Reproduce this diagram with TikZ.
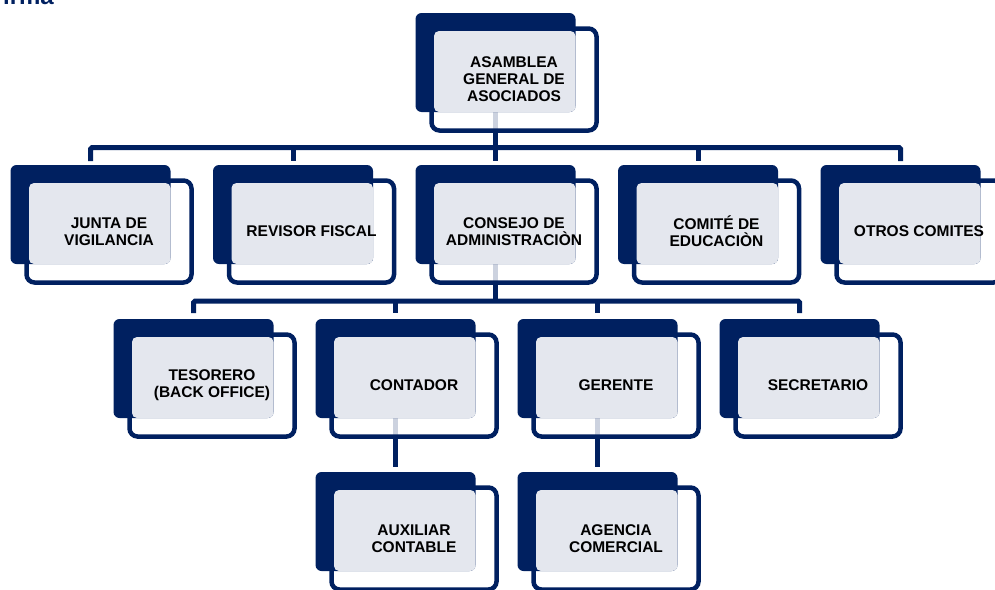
\documentclass[tikz,border=0pt]{standalone}
\usepackage{fontspec}
\setmainfont{Liberation Sans}
\definecolor{navy}{RGB}{0,32,96}
\definecolor{paleg}{RGB}{228,231,238}
\newcommand\lblfont{\bfseries\fontsize{15.5}{17}\selectfont}
\tikzset{
  darkbox/.style={fill=navy, rounded corners=6pt},
  framebox/.style={draw=navy, line width=4.5pt, fill=white, fill opacity=0.8, rounded corners=8pt},
  greybox/.style={fill=paleg, rounded corners=5pt},
  conn/.style={draw=navy, line width=5pt, rounded corners=1.5pt},
  lbl/.style={font=\lblfont, align=center, text=black, inner sep=0pt},
  anchorbox/.style={inner sep=0pt, minimum width=160pt, minimum height=99pt, anchor=north west}
}
\newcommand\orgunit[4]{%
  \path[framebox] (#2+16,#3+15.5) rectangle (#2+181,#3+117.5);
  \path[darkbox] (#2,#3) rectangle (#2+160,#3+99);
  \path[greybox] (#2+18.5,#3+18) rectangle (#2+160,#3+99);
  \node[lbl] (#1-t) at (#2+98.5,#3+66.5) {#4};
}
\begin{document}
\begin{tikzpicture}[x=1pt,y=-1pt]
\useasboundingbox (0,0) rectangle (995,589);
% anchor nodes (dark boxes)
\node[anchorbox] (asamblea) at (415.5,13) {};
\node[anchorbox] (junta) at (10.5,165) {};
\node[anchorbox] (revisor) at (213,165) {};
\node[anchorbox] (consejo) at (415.5,165) {};
\node[anchorbox] (comite) at (618,165) {};
\node[anchorbox] (otros) at (820.5,165) {};
\node[anchorbox] (tesorero) at (113.5,319) {};
\node[anchorbox] (contador) at (315.5,319) {};
\node[anchorbox] (gerente) at (517.5,319) {};
\node[anchorbox] (secretario) at (719.5,319) {};
\node[anchorbox] (auxiliar) at (315.5,472) {};
\node[anchorbox] (agencia) at (517.5,472) {};
\coordinate (bar1) at (0,147.5);
\coordinate (bar2) at (0,301);
% title fragment
\node[anchor=base east, inner sep=0pt, text=navy, font=\bfseries\fontsize{24}{24}\selectfont] (title) at (54,5) {irma};
% connectors
\draw[conn, shorten >=4pt] (asamblea.south) -- (consejo.north);
\draw[conn, shorten <=4pt, shorten >=4pt] (junta.north) |- (otros.north |- bar1) -- (otros.north);
\draw[conn, shorten >=4pt] (revisor.north |- bar1) -- (revisor.north);
\draw[conn, shorten >=4pt] (comite.north |- bar1) -- (comite.north);
\draw[conn] (consejo.south) -- (consejo.south |- bar2);
\draw[conn, shorten <=6pt, shorten >=6pt] (tesorero.north) |- (secretario.north |- bar2) -- (secretario.north);
\draw[conn, shorten >=6pt] (contador.north |- bar2) -- (contador.north);
\draw[conn, shorten >=6pt] (gerente.north |- bar2) -- (gerente.north);
\draw[conn, shorten >=5pt] (contador.south) -- (auxiliar.north);
\draw[conn, shorten >=5pt] (gerente.south) -- (agencia.north);
% units
\orgunit{asambleaU}{415.5}{13}{ASAMBLEA\\GENERAL DE\\ASOCIADOS}
\orgunit{juntaU}{10.5}{165}{JUNTA DE\\VIGILANCIA}
\orgunit{revisorU}{213}{165}{REVISOR FISCAL}
\orgunit{consejoU}{415.5}{165}{CONSEJO DE\\ADMINISTRACIÒN}
\orgunit{comiteU}{618}{165}{COMITÉ DE\\EDUCACIÒN}
\orgunit{otrosU}{820.5}{165}{OTROS COMITES}
\orgunit{tesoreroU}{113.5}{319}{TESORERO\\(BACK OFFICE)}
\orgunit{contadorU}{315.5}{319}{CONTADOR}
\orgunit{gerenteU}{517.5}{319}{GERENTE}
\orgunit{secretarioU}{719.5}{319}{SECRETARIO}
\orgunit{auxiliarU}{315.5}{472}{AUXILIAR\\CONTABLE}
\orgunit{agenciaU}{517.5}{472}{AGENCIA\\COMERCIAL}
\end{tikzpicture}
\end{document}
